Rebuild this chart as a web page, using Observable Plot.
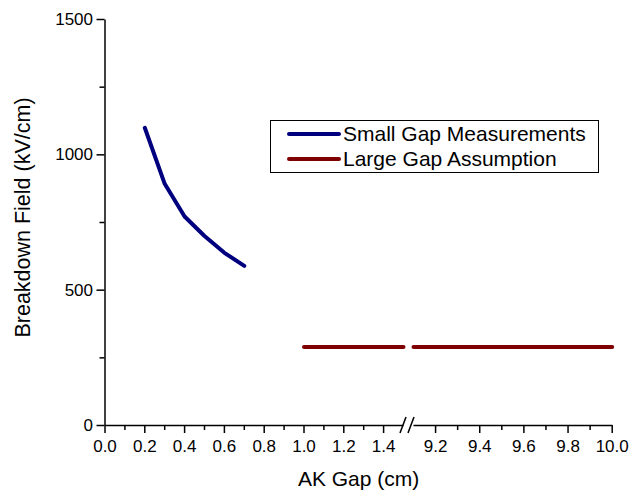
<!DOCTYPE html>
<html>
<head>
<meta charset="utf-8">
<script src="https://cdn.jsdelivr.net/npm/d3@7"></script>
<script src="https://cdn.jsdelivr.net/npm/@observablehq/plot@0.6"></script>
<style>
  html, body { margin: 0; padding: 0; background: #fff; }
  #wrap { position: relative; width: 629px; height: 491px; font-family: "Liberation Sans", Arial, sans-serif; }
  #legend { position: absolute; left: 270px; top: 120px; width: 327px; height: 51px; border: 1px solid #000; background: #fff; box-sizing: content-box; }
  .row { position: absolute; left: 0; height: 24px; display: flex; align-items: center; font-size: 21px; color: #000; white-space: nowrap; }
  .sw { width: 54px; height: 4px; margin-left: 16px; margin-right: 2px; border-radius: 2px; }
</style>
</head>
<body>
<div id="wrap"></div>
<script>
// ---- data ----
const smallGap = [0.2, 0.3, 0.4, 0.5, 0.6, 0.7];
const smallField = [1100, 893, 772, 700, 638, 590];
const largeGapSeg1 = [1.0, 1.5];
const largeGapSeg2 = [9.1, 10.0];
const largeField = 290;
const seriesNames = ["Small Gap Measurements", "Large Gap Assumption"];
const seriesColors = ["#00007F", "#7F0000"];
const xMajorTicks = [0.0, 0.2, 0.4, 0.6, 0.8, 1.0, 1.2, 1.4, 9.2, 9.4, 9.6, 9.8, 10.0];
const xMinorTicks = [0.1, 0.3, 0.5, 0.7, 0.9, 1.1, 1.3, 9.3, 9.5, 9.7, 9.9];
const yMajorTicks = [0, 500, 1000, 1500];
const yMinorTicks = [250, 750, 1250];
const xSegments = [[0, 1.5], [9.1, 10.0]];
const yDomain = [0, 1500];
const xTitle = "AK Gap (cm)";
const yTitle = "Breakdown Field (kV/cm)";

// ---- tables ----
const small = smallGap.map((g, i) => ({gap: g, field: smallField[i], series: seriesNames[0]}));
const large = [
  ...largeGapSeg1.map(g => ({gap: g, field: largeField, seg: 1})),
  ...largeGapSeg2.map(g => ({gap: g, field: largeField, seg: 2}))
];
const axisSegs = xSegments.map(([a, b]) => ({x1: a, x2: b}));

// broken-axis decoration drawn from the scales
function breakMarks(index, scales) {
  const svg = d3.create("svg:g");
  const y0 = scales.y(0);
  const xa = scales.x(xSegments[0][1]);
  const xb = scales.x(xSegments[1][0]) - 2;
  for (const cx of [xa, xb]) {
    svg.append("line")
      .attr("x1", cx - 3).attr("y1", y0 + 8)
      .attr("x2", cx + 3).attr("y2", y0 - 8)
      .attr("stroke", "#000").attr("stroke-width", 1.5);
  }
  return svg.node();
}

const chart = Plot.plot({
  width: 629,
  height: 491,
  marginLeft: 104.5,
  marginRight: 17.3,
  marginTop: 19,
  marginBottom: 66,
  style: {fontFamily: "'Liberation Sans', Arial, sans-serif", fontSize: "16px", color: "#000", background: "#fff"},
  x: {type: "linear", domain: [0, 1.5, 9.1, 10.0], range: [104.5, 403, 413, 611.7]},
  y: {domain: yDomain},
  marks: [
    // axis lines
    Plot.link(axisSegs, {x1: "x1", x2: "x2", y1: 0, y2: 0, stroke: "#000", strokeWidth: 1.5}),
    Plot.link([0], {x1: 0, x2: 0, y1: yDomain[0], y2: yDomain[1], stroke: "#000", strokeWidth: 1.5}),
    breakMarks,
    // ticks
    Plot.axisX({ticks: xMajorTicks, tickSize: 8, tickPadding: 6, strokeWidth: 1.5, tickFormat: d => d.toFixed(1), label: null, fontSize: 17}),
    Plot.axisX({ticks: xMinorTicks, tickSize: 5, strokeWidth: 1.5, tickFormat: () => "", label: null}),
    Plot.axisY({ticks: yMajorTicks, tickSize: 8, tickPadding: 4, strokeWidth: 1.5, tickFormat: d => String(d), label: null, fontSize: 17}),
    Plot.axisY({ticks: yMinorTicks, tickSize: 5, strokeWidth: 1.5, tickFormat: () => "", label: null}),
    // data
    Plot.line(small, {x: "gap", y: "field", stroke: seriesColors[0], strokeWidth: 4, strokeLinecap: "round", strokeLinejoin: "round"}),
    Plot.line(large, {x: "gap", y: "field", z: "seg", stroke: seriesColors[1], strokeWidth: 4}),
    // titles
    Plot.text([xTitle], {frameAnchor: "bottom", lineAnchor: "middle", dy: 54, fontSize: 21, text: d => d}),
    Plot.text([yTitle], {frameAnchor: "left", textAnchor: "middle", lineAnchor: "middle", rotate: -90, dx: -82, dy: -5, fontSize: 21.5, text: d => d})
  ]
});

const wrap = document.getElementById("wrap");
wrap.appendChild(chart);

// legend
const legend = document.createElement("div");
legend.id = "legend";
const rowTops = [1, 26];
seriesNames.forEach((name, i) => {
  const row = document.createElement("div");
  row.className = "row";
  row.style.top = rowTops[i] + "px";
  const sw = document.createElement("div");
  sw.className = "sw";
  sw.style.background = seriesColors[i];
  const t = document.createElement("span");
  t.textContent = name;
  row.appendChild(sw);
  row.appendChild(t);
  legend.appendChild(row);
});
wrap.appendChild(legend);
</script>
</body>
</html>
